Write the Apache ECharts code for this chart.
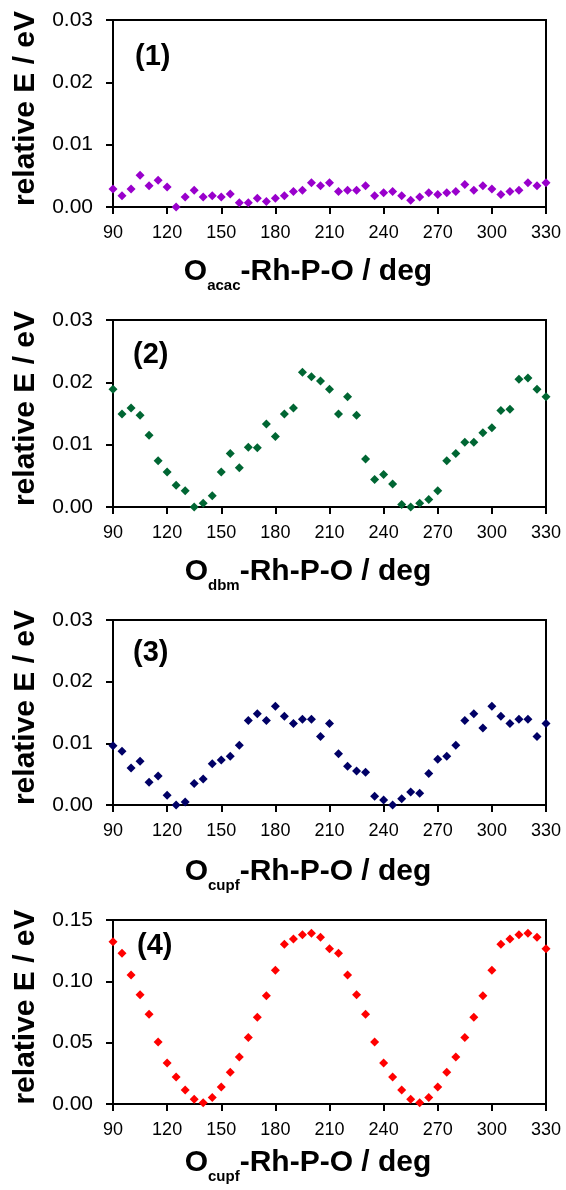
<!DOCTYPE html>
<html>
<head>
<meta charset="utf-8">
<script src="https://cdn.jsdelivr.net/npm/echarts@6/dist/echarts.min.js"></script>
<style>
html,body{margin:0;padding:0;background:#fff;}
#c{width:566px;height:1190px;}
</style>
</head>
<body>
<div id="c"></div>
<script>
// Dihedral angle (deg)
const angles = [90,95,100,105,110,115,120,125,130,135,140,145,150,155,160,165,170,175,180,185,190,195,200,205,210,215,220,225,230,235,240,245,250,255,260,265,270,275,280,285,290,295,300,305,310,315,320,325,330];
const xTicks = [90,120,150,180,210,240,270,300,330];

// (1) acac
const energyAcac = [0.0029,0.0018,0.0029,0.0051,0.0034,0.0043,0.0032,0.0000,0.0016,0.0027,0.0016,0.0018,0.0016,0.0021,0.0007,0.0007,0.0014,0.0009,0.0014,0.0018,0.0025,0.0027,0.0039,0.0034,0.0039,0.0025,0.0027,0.0027,0.0034,0.0018,0.0023,0.0025,0.0018,0.0011,0.0016,0.0023,0.0020,0.0023,0.0025,0.0036,0.0027,0.0034,0.0029,0.0020,0.0025,0.0027,0.0039,0.0034,0.0039];
// (2) dbm
const energyDbm = [0.0189,0.0149,0.0159,0.0147,0.0115,0.0074,0.0056,0.0035,0.0026,0.0000,0.0006,0.0018,0.0056,0.0086,0.0063,0.0096,0.0095,0.0133,0.0113,0.0149,0.0159,0.0216,0.0209,0.0202,0.0189,0.0149,0.0177,0.0147,0.0077,0.0044,0.0052,0.0037,0.0004,0.0000,0.0006,0.0012,0.0026,0.0074,0.0086,0.0104,0.0104,0.0119,0.0127,0.0155,0.0157,0.0205,0.0207,0.0189,0.0177];
// (3) cupf
const energyCupf3 = [0.0096,0.0087,0.0060,0.0071,0.0037,0.0047,0.0016,0.0000,0.0005,0.0035,0.0042,0.0067,0.0073,0.0079,0.0097,0.0137,0.0148,0.0137,0.0160,0.0144,0.0132,0.0139,0.0139,0.0111,0.0132,0.0083,0.0063,0.0055,0.0053,0.0014,0.0008,0.0000,0.0010,0.0021,0.0019,0.0051,0.0074,0.0079,0.0097,0.0137,0.0148,0.0125,0.0160,0.0144,0.0132,0.0139,0.0139,0.0111,0.0132];
// (4) cupf
const energyCupf4 = [0.1323,0.1228,0.1052,0.0891,0.0731,0.0505,0.0334,0.0220,0.0114,0.0038,0.0011,0.0054,0.0139,0.0258,0.0383,0.0543,0.0707,0.0883,0.1090,0.1302,0.1345,0.1380,0.1391,0.1359,0.1266,0.1228,0.1052,0.0891,0.0731,0.0505,0.0334,0.0220,0.0114,0.0038,0.0011,0.0054,0.0139,0.0258,0.0383,0.0543,0.0707,0.0883,0.1090,0.1302,0.1345,0.1380,0.1391,0.1359,0.1266];

const yMax = [0.03, 0.03, 0.03, 0.15];
const yStep = [0.01, 0.01, 0.01, 0.05];
const panelLabels = ['(1)', '(2)', '(3)', '(4)'];
const ligands = ['acac', 'dbm', 'cupf', 'cupf'];
const yTitle = 'relative E / eV';
const colors = ['#9900CC', '#006633', '#000066', '#FF0000'];
const seriesData = [energyAcac, energyDbm, energyCupf3, energyCupf4];

const FONT = '"Liberation Sans", Arial, sans-serif';
const tops = [20, 320, 620, 920];
const heights = [187, 187, 185, 184];
const titleY = [272, 572, 872, 1163];
const labelPos = [[135, 57], [133, 355], [133, 653], [137, 946]];

const grids = [], xAxes = [], yAxes = [], series = [], graphics = [];
for (let i = 0; i < 4; i++) {
  grids.push({left: 113, width: 433, top: tops[i], height: heights[i], show: true,
    borderColor: '#000', borderWidth: 2, backgroundColor: 'transparent'});
  xAxes.push({type: 'value', gridIndex: i, min: 90, max: 330, interval: 30,
    axisLine: {lineStyle: {color: '#000', width: 2}},
    axisTick: {inside: false, length: 7, lineStyle: {color: '#000', width: 2}},
    axisLabel: {color: '#000', fontSize: 18, fontFamily: FONT, margin: 17},
    splitLine: {show: false}});
  yAxes.push({type: 'value', gridIndex: i, min: 0, max: yMax[i], interval: yStep[i],
    name: yTitle, nameLocation: 'middle', nameGap: 72,
    nameTextStyle: {color: '#000', fontSize: 30, fontWeight: 'bold', fontFamily: FONT, padding: [0, 0, 0, 10]},
    axisLine: {lineStyle: {color: '#000', width: 2}},
    axisTick: {inside: false, length: 7, lineStyle: {color: '#000', width: 2}},
    axisLabel: {color: '#000', fontSize: 21, fontFamily: FONT, margin: 20,
      formatter: v => v.toFixed(2)},
    splitLine: {show: false}});
  series.push({type: 'scatter', xAxisIndex: i, yAxisIndex: i,
    symbol: 'diamond', symbolSize: 9, itemStyle: {color: colors[i], opacity: 1},
    data: angles.map((a, k) => [a, seriesData[i][k]])});
  graphics.push({type: 'text', x: labelPos[i][0], y: labelPos[i][1],
    style: {text: panelLabels[i], fontSize: 29, fontWeight: 'bold', fontFamily: FONT,
      fill: '#000', align: 'left', verticalAlign: 'middle'}});
  graphics.push({type: 'text', x: 308, y: titleY[i],
    style: {text: '{m|O}{s|' + ligands[i] + '}{m|-Rh-P-O / deg}',
      align: 'center', verticalAlign: 'middle', fill: '#000',
      rich: {
        m: {fontSize: 30, fontWeight: 'bold', fontFamily: FONT, lineHeight: 30, fill: '#000', color: '#000'},
        s: {fontSize: 15, fontWeight: 'bold', fontFamily: FONT, height: 3, lineHeight: 3, verticalAlign: 'bottom', fill: '#000', color: '#000'}
      }}});
}

const chart = echarts.init(document.getElementById('c'), null, {renderer: 'canvas'});
chart.setOption({
  animation: false,
  backgroundColor: '#fff',
  grid: grids, xAxis: xAxes, yAxis: yAxes, series: series, graphic: graphics
});
</script>
</body>
</html>
